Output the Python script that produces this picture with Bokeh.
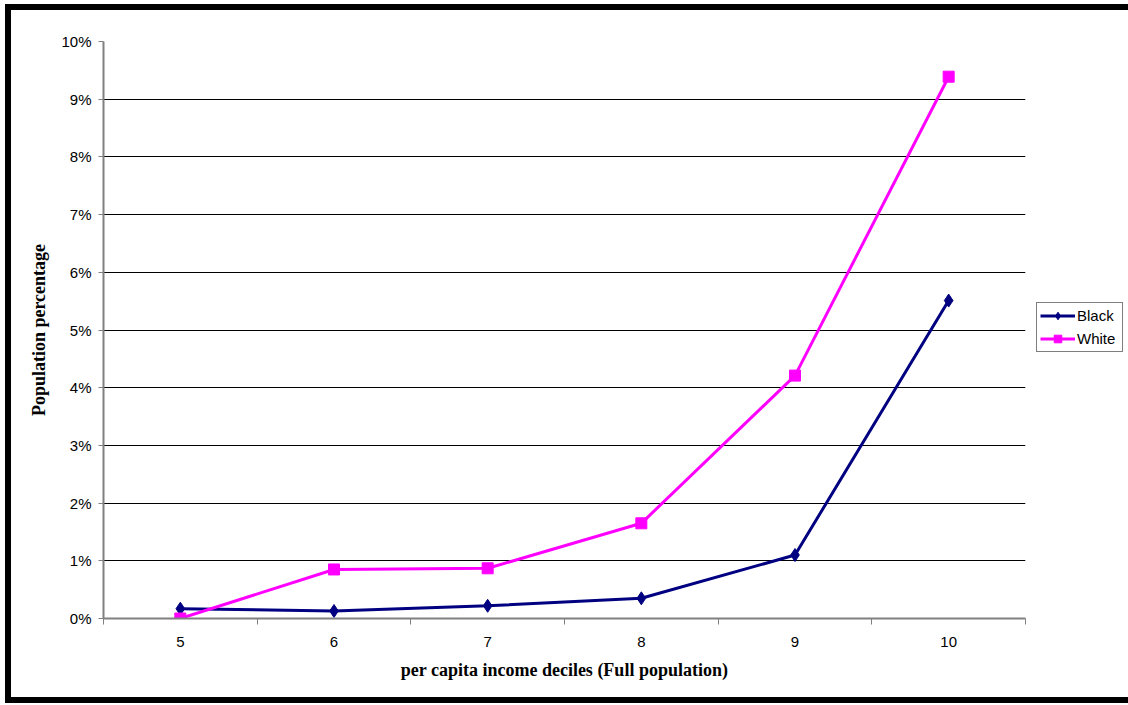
from bokeh.plotting import figure
from bokeh.models import (FixedTicker, PrintfTickFormatter, Legend, LegendItem,
                          ColumnDataSource)
from bokeh.embed import file_html
from bokeh.resources import INLINE

# Share of each income decile (full population), in percent
deciles = [5, 6, 7, 8, 9, 10]
black_pct = [0.17, 0.13, 0.22, 0.35, 1.10, 5.51]
white_pct = [0.00, 0.85, 0.87, 1.65, 4.21, 9.39]
y_ticks = [0, 1, 2, 3, 4, 5, 6, 7, 8, 9, 10]

NAVY = "#000080"
MAGENTA = "#FF00FF"
SANS = "Liberation Sans"
SERIF = "Liberation Serif"

p = figure(frame_width=922, frame_height=577,
           x_range=(4.5, 10.5), y_range=(0, 10),
           min_border_left=92, min_border_right=103,
           min_border_top=31, min_border_bottom=79,
           output_backend="svg", toolbar_location=None,
           background_fill_color="white", border_fill_color="white")
p.outline_line_color = None
p.styles = {"box-sizing": "content-box",
            "border-top": "6px solid black", "border-left": "6px solid black",
            "border-bottom": "6px solid black",
            "margin-left": "5px", "margin-top": "4px"}

# x axis: labels at category centres, tick marks at category boundaries
xt = FixedTicker(ticks=deciles,
                 minor_ticks=[d - 0.5 for d in deciles] + [deciles[-1] + 0.5])
p.xaxis.ticker = xt
p.xaxis.major_tick_out = 0
p.xaxis.major_tick_in = 0
p.xaxis.minor_tick_out = 6
p.xaxis.minor_tick_in = 0
p.xaxis.minor_tick_line_color = "#808080"
p.xaxis.minor_tick_line_width = 1
p.xaxis.major_label_standoff = 12
p.xaxis.axis_label = "per capita income deciles (Full population)"
p.xaxis.axis_label_standoff = 10

p.yaxis.ticker = FixedTicker(ticks=y_ticks)
p.yaxis.formatter = PrintfTickFormatter(format="%d%%")
p.yaxis.minor_tick_line_color = None
p.yaxis.major_tick_out = 5
p.yaxis.major_tick_in = 0
p.yaxis.major_label_standoff = 7
p.yaxis.axis_label = "Population percentage"
p.yaxis.axis_label_standoff = 9

for ax in (p.xaxis, p.yaxis):
    ax.axis_line_color = "#808080"
    ax.axis_line_width = 2
    ax.major_tick_line_color = "#808080"
    ax.major_label_text_font = SANS
    ax.major_label_text_font_size = "15px"
    ax.major_label_text_color = "black"
    ax.axis_label_text_font = SERIF
    ax.axis_label_text_font_style = "bold"
    ax.axis_label_text_font_size = "18px"
    ax.axis_label_text_color = "black"

p.xgrid.grid_line_color = None
p.ygrid.ticker = FixedTicker(ticks=y_ticks[1:])
p.ygrid.grid_line_color = "black"
p.ygrid.grid_line_width = 1

src = ColumnDataSource(dict(x=deciles, black=black_pct, white=white_pct))

bl = p.line("x", "black", source=src, line_color=NAVY, line_width=3)
bm = p.scatter("x", "black", source=src, marker="diamond", size=13,
               fill_color=NAVY, line_color=NAVY)
wl = p.line("x", "white", source=src, line_color=MAGENTA, line_width=3)
wm = p.scatter("x", "white", source=src, marker="square", size=11,
               fill_color=MAGENTA, line_color=MAGENTA)

legend = Legend(items=[LegendItem(label="Black", renderers=[bl, bm]),
                       LegendItem(label="White", renderers=[wl, wm])],
                location=(11, 266), orientation="vertical",
                label_text_font=SANS, label_text_font_size="15px",
                label_text_color="black", label_height=19, label_width=42,
                label_standoff=2, glyph_width=35, glyph_height=19,
                spacing=4, padding=3, margin=0,
                border_line_color="black", border_line_width=1,
                background_fill_color="white", background_fill_alpha=1)
p.add_layout(legend, "right")

open("out.html", "w").write(file_html(p, INLINE))
